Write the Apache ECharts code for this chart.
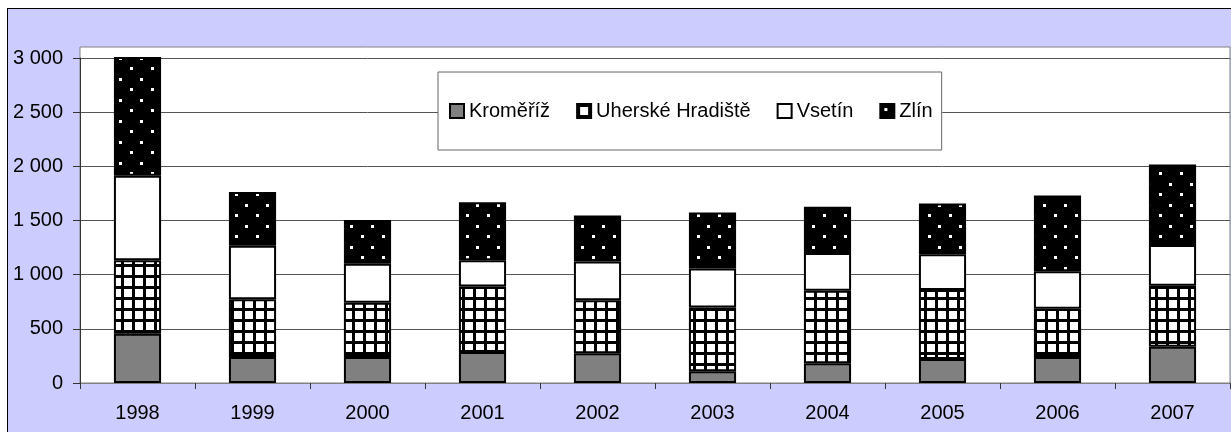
<!DOCTYPE html>
<html>
<head>
<meta charset="utf-8">
<script src="https://cdn.jsdelivr.net/npm/echarts@6/dist/echarts.min.js"></script>
<style>
  html, body { margin: 0; padding: 0; background: #fff; overflow: hidden; }
  #frame { position: absolute; left: 7px; top: 8px; width: 1240px; height: 440px; background: #ccccff; border: 1px solid #000; }
  #chart { position: absolute; left: 0; top: 0; width: 1231px; height: 432px; }
</style>
</head>
<body>
<div id="frame"></div>
<div id="chart"></div>
<script>
var years = ['1998', '1999', '2000', '2001', '2002', '2003', '2004', '2005', '2006', '2007'];
var kromeriz = [455, 240, 240, 286, 274, 108, 182, 222, 240, 335];
var uherskeHradiste = [677, 532, 501, 604, 490, 588, 670, 637, 446, 563];
var vsetin = [782, 495, 360, 243, 357, 360, 348, 329, 345, 376];
var zlin = [1106, 496, 403, 535, 424, 517, 428, 468, 699, 742];
var yTicks = [0, 500, 1000, 1500, 2000, 2500, 3000];

(function() {
  // fill patterns, like the old Excel hatches
  function makeGrid() {
    var c = document.createElement('canvas');
    c.width = 11; c.height = 11;
    var g = c.getContext('2d');
    g.fillStyle = '#fff';
    g.fillRect(0, 0, 11, 11);
    g.fillStyle = '#000';
    g.fillRect(0, 0, 3, 11);
    g.fillRect(0, 0, 11, 3);
    return c;
  }
  function makeDots() {
    var c = document.createElement('canvas');
    c.width = 21; c.height = 21;
    var g = c.getContext('2d');
    g.fillStyle = '#000';
    g.fillRect(0, 0, 21, 21);
    g.fillStyle = '#fff';
    g.fillRect(4, 4, 3, 3);
    g.fillRect(14, 15, 3, 3);
    return c;
  }

  var font = '"Liberation Sans", Arial, sans-serif';
  var chart = echarts.init(document.getElementById('chart'));

  function barSeries(name, data, fill) {
    return {
      name: name,
      type: 'bar',
      stack: 'total',
      barWidth: '41%',
      data: data,
      itemStyle: { color: fill, borderColor: '#000', borderWidth: 2 }
    };
  }

  var option = {
    animation: false,
    textStyle: { fontFamily: font },
    graphic: [{
      type: 'rect',
      z: -1,
      silent: true,
      shape: { x: 80, y: 47, width: 1150, height: 336 },
      style: { fill: '#fff', stroke: '#808080', lineWidth: 1 }
    }],
    legend: {
      left: 438,
      top: 72,
      padding: [29, 9, 29, 11],
      itemGap: 26,
      itemWidth: 14,
      itemHeight: 14,
      icon: 'rect',
      backgroundColor: '#fff',
      borderColor: '#666',
      borderWidth: 1,
      textStyle: { color: '#000', fontSize: 20, lineHeight: 20, fontFamily: font },
      data: ['Kroměříž', 'Uherské Hradiště', 'Vsetín', 'Zlín']
    },
    grid: { left: 80, top: 58, right: 1, bottom: 49 },
    xAxis: {
      type: 'category',
      data: years,
      axisLine: { lineStyle: { color: '#808080', width: 1 } },
      axisTick: { show: true, length: 6, lineStyle: { color: '#333' } },
      axisLabel: { color: '#000', fontSize: 20, margin: 20, fontFamily: font }
    },
    yAxis: {
      type: 'value',
      min: yTicks[0],
      max: yTicks[yTicks.length - 1],
      interval: 500,
      axisLine: { show: true, lineStyle: { color: '#333', width: 1 } },
      axisTick: { show: true, length: 7, lineStyle: { color: '#333' } },
      splitLine: { lineStyle: { color: '#555', width: 1 } },
      axisLabel: {
        color: '#000',
        fontSize: 20,
        margin: 17,
        fontFamily: font,
        formatter: function(v) {
          if (v < 1000) return String(v);
          return Math.floor(v / 1000) + ' ' + String(v % 1000).padStart(3, '0');
        }
      }
    },
    series: [
      barSeries('Kroměříž', kromeriz, '#808080'),
      barSeries('Uherské Hradiště', uherskeHradiste, { image: makeGrid(), repeat: 'repeat' }),
      barSeries('Vsetín', vsetin, '#fff'),
      barSeries('Zlín', zlin, { image: makeDots(), repeat: 'repeat' })
    ]
  };

  chart.setOption(option);
  window.addEventListener('resize', function() { chart.resize(); });
})();
</script>
</body>
</html>
